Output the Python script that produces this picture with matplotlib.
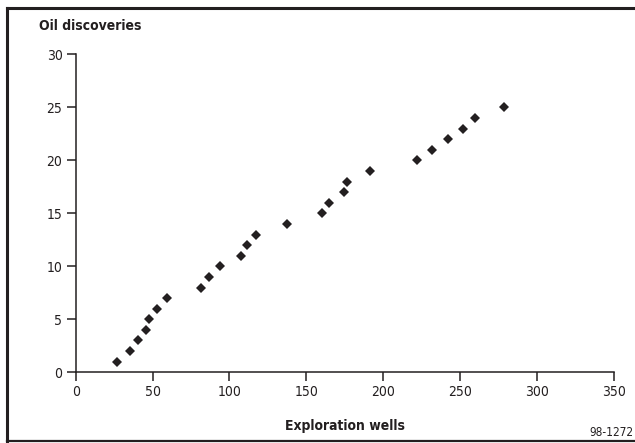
import matplotlib
matplotlib.use('Agg')
import matplotlib.pyplot as plt
from matplotlib.lines import Line2D

plt.rcParams['font.family'] = ['DejaVu Sans']
plt.rcParams['font.stretch'] = 'condensed'

# Cumulative oil discoveries vs exploration wells drilled
wells = [26.6, 35.5, 40.5, 45.6, 47.6, 52.6, 59.5, 81.6, 86.6, 93.7,
         107.5, 111.7, 117.5, 137.4, 160.4, 164.7, 174.7, 176.6, 191.6,
         221.6, 231.6, 242.4, 251.7, 259.5, 278.3]
discoveries = list(range(1, 26))

x_ticks = [0, 50, 100, 150, 200, 250, 300, 350]
y_ticks = [0, 5, 10, 15, 20, 25, 30]

INK = '#231f20'

fig = plt.figure(figsize=(6.35, 4.43), dpi=100)
ax = fig.add_axes([0.1192, 0.1596, 0.8477, 0.7178])

ax.plot(wells, discoveries, linestyle='none', marker='D', markersize=5,
        color=INK, markeredgewidth=0)

ax.set_xlim(0, 350)
ax.set_ylim(0, 30)
ax.set_xticks(x_ticks)
ax.set_yticks(y_ticks)

for side in ['top', 'right']:
    ax.spines[side].set_visible(False)
for side in ['left', 'bottom']:
    ax.spines[side].set_linewidth(1.1)
    ax.spines[side].set_color(INK)

ax.tick_params(direction='out', length=6.5, width=1.1, color=INK,
               labelsize=10, labelcolor=INK, pad=3)

ax.set_xlabel('Exploration wells', fontsize=10, fontweight='bold',
              color=INK, labelpad=14)
fig.text(39 / 635, 1 - 26 / 443, 'Oil discoveries', fontsize=10,
         fontweight='bold', color=INK, ha='left', va='center')
fig.text(633 / 635, 1 - 432 / 443, '98-1272', fontsize=8.5, color=INK,
         ha='right', va='center')

# frame around the figure (open on the right edge)
W, H = 635, 443
fig.add_artist(Line2D([7 / W, 1], [1 - 7.5 / H, 1 - 7.5 / H],
                      transform=fig.transFigure, color=INK, linewidth=2.2))
fig.add_artist(Line2D([7 / W, 7 / W], [1 - 7.5 / H, 1 - 441 / H],
                      transform=fig.transFigure, color=INK, linewidth=2.2))
fig.add_artist(Line2D([7 / W, 1], [1 - 441 / H, 1 - 441 / H],
                      transform=fig.transFigure, color=INK, linewidth=1.6))

fig.savefig('out.png', dpi=100)
